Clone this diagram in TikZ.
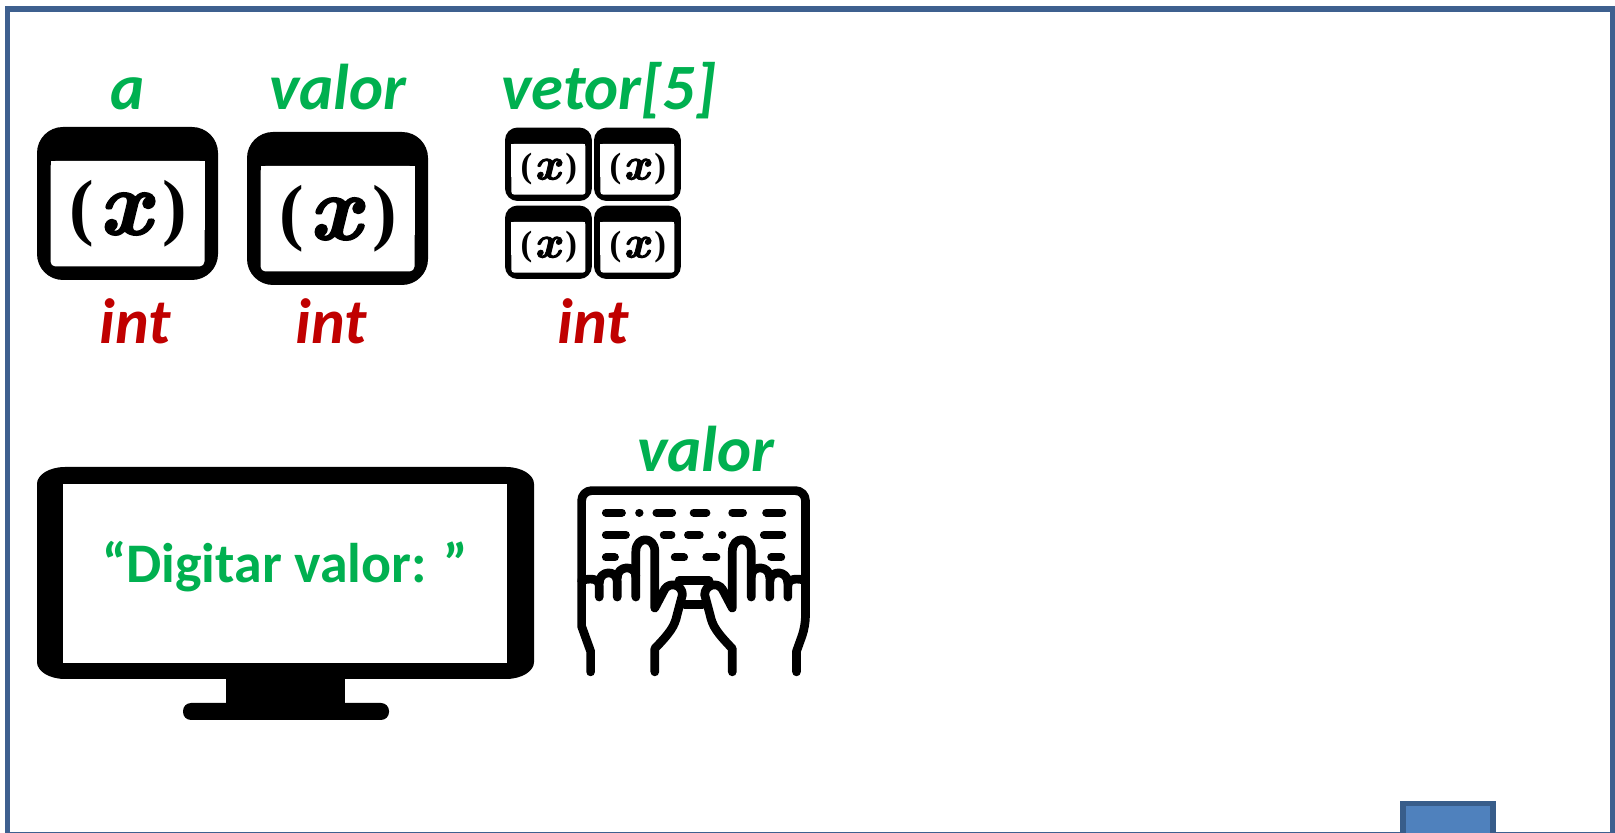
\documentclass[tikz,border=0pt]{standalone}
\usepackage{fontspec}
\setmainfont{Carlito}
\newfontfamily\iconfont{Liberation Serif}
\newfontface\varx{lmroman10-bolditalic.otf}[FakeBold=2.2]
\definecolor{framecol}{RGB}{62,96,143}
\definecolor{boxcol}{RGB}{79,129,189}
\definecolor{boxedge}{RGB}{56,93,138}
\definecolor{namecol}{RGB}{0,176,80}
\definecolor{typecol}{RGB}{192,0,0}
\tikzset{
    namelabel/.style={text=namecol,anchor=base,font=\fontsize{18.4}{18.4}\selectfont\bfseries\itshape,inner sep=0pt},
    typelabel/.style={text=typecol,anchor=base,font=\fontsize{18.2}{18.2}\selectfont\bfseries\itshape,inner sep=0pt},
    screentext/.style={text=namecol,anchor=base,font=\fontsize{15.9}{15.9}\selectfont\bfseries,inner sep=0pt},
    keyline/.style={line width=0.087cm,line cap=round,line join=round},
    keyrow/.style={line width=0.08cm,line cap=round}
}
% variable icon: name, scale, size of x, size of brackets
\newcommand{\varicon}[4]{
    \begin{scope}[shift={(#1)},scale=#2]
        \fill[black,rounded corners=#2*0.26cm] (0,0) rectangle (1.81,1.53);
        \fill[white,rounded corners=#2*0.05cm] (0.135,0.135) rectangle (1.675,1.19);
        \fill[white] (0.135,0.5) rectangle (1.675,1.19);
        \node[inner sep=0pt,font=\varx\fontsize{#3}{#3}\selectfont] (#1x) at (0.88,0.66) {x};
        \node[inner sep=0pt,font=\iconfont\bfseries\fontsize{#4}{#4}\selectfont] (#1l) at (0.447,0.66) {(};
        \node[inner sep=0pt,font=\iconfont\bfseries\fontsize{#4}{#4}\selectfont] (#1r) at (1.38,0.66) {)};
    \end{scope}
}
\begin{document}
\begin{tikzpicture}
    \useasboundingbox (0,0) rectangle (16.15,8.32);
    % frame
    \draw[framecol,line width=0.055cm] (0.075,-0.024) rectangle (16.125,8.232);
    % box at the bottom
    \fill[boxcol,draw=boxedge,line width=0.055cm] (14.03,-0.3) rectangle (14.93,0.283);

    % variables
    \coordinate (a) at (0.37,5.52);
    \coordinate (b) at (2.47,5.47);
    \varicon{a}{1}{26}{21}
    \varicon{b}{1}{26}{21}
    \node[namelabel] (namea) at (1.28,7.22) {a};
    \node[namelabel] (nameb) at (3.38,7.22) {valor};
    \node[typelabel] (typea) at (1.35,4.88) {int};
    \node[typelabel] (typeb) at (3.31,4.88) {int};

    % vector
    \coordinate (c1) at (5.05,6.31);
    \coordinate (c2) at (5.94,6.31);
    \coordinate (c3) at (5.05,5.53);
    \coordinate (c4) at (5.94,5.53);
    \varicon{c1}{0.48}{13}{10}
    \varicon{c2}{0.48}{13}{10}
    \varicon{c3}{0.48}{13}{10}
    \varicon{c4}{0.48}{13}{10}
    \node[namelabel] (namec) at (6.09,7.22) {vetor[5]};
    \node[typelabel] (typec) at (5.93,4.88) {int};

    % monitor
    \fill[black] (0.37,1.70) arc[start angle=180,end angle=270,x radius=0.28,y radius=0.17]
        -- (5.06,1.53) arc[start angle=270,end angle=360,x radius=0.28,y radius=0.17]
        -- (5.34,3.48) arc[start angle=0,end angle=90,x radius=0.28,y radius=0.17]
        -- (0.65,3.65) arc[start angle=90,end angle=180,x radius=0.28,y radius=0.17] -- cycle;
    \fill[black] (2.26,1.25) rectangle (3.45,1.6);
    \fill[black,rounded corners=0.08cm] (1.83,1.12) rectangle (3.89,1.29);
    \fill[white] (0.63,1.69) rectangle (5.07,3.48);
    \node[screentext] (screen) at (2.85,2.49) {“Digitar valor: ”};

    % keyboard
    \node[namelabel] (namek) at (7.06,3.60) {valor};
    \begin{scope}[shift={(5.60,3.62)},x=0.003333cm,y=-0.003333cm]
        \draw[keyline] (92,607) -- (92,545) -- (65,470) [rounded corners=0.1cm] -- (65,62) -- (738,62) -- (738,470) [sharp corners] -- (711,545) -- (711,607);
        \draw[keyrow] (138,128) -- (186,128);
        \draw[keyrow] (238,128) -- (239,128);
        \draw[keyrow] (290,128) -- (337,128);
        \draw[keyrow] (402,128) -- (440,128);
        \draw[keyrow] (518,128) -- (550,128);
        \draw[keyrow] (620,128) -- (668,128);
        \draw[keyrow] (138,195) -- (198,195);
        \draw[keyrow] (312,195) -- (335,195);
        \draw[keyrow] (385,195) -- (420,195);
        \draw[keyrow] (487,195) -- (488,195);
        \draw[keyrow] (613,195) -- (668,195);
        \draw[keyrow] (138,263) -- (165,263);
        \draw[keyrow] (345,263) -- (373,263);
        \draw[keyrow] (440,263) -- (470,263);
        \draw[keyrow] (635,263) -- (665,263);
        \draw[keyline] (358,333) -- (448,333);
        \draw[keyline] (375,405) -- (428,405);
        % one hand, then its mirror image
        \foreach \side/\shiftx in {1/0,-1/803}{
            \begin{scope}[xshift=\shiftx*0.003333cm,xscale=\side]
                \draw[keyline] (65,332) .. controls (90,325) and (118,325) .. (118,350) -- (118,382);
                \draw[keyline] (118,340) .. controls (118,300) and (172,300) .. (172,335) -- (172,382);
                \draw[keyline] (172,325) .. controls (172,285) and (228,285) .. (228,320);
                \draw[keyline] (228,382) -- (228,245) .. controls (228,198) and (285,198) .. (285,245) -- (285,415) -- (315,358)
                    .. controls (330,335) and (368,345) .. (368,375) -- (352,435) .. controls (345,470) and (330,490) .. (285,537) -- (285,607);
            \end{scope}
        }
    \end{scope}
\end{tikzpicture}
\end{document}
